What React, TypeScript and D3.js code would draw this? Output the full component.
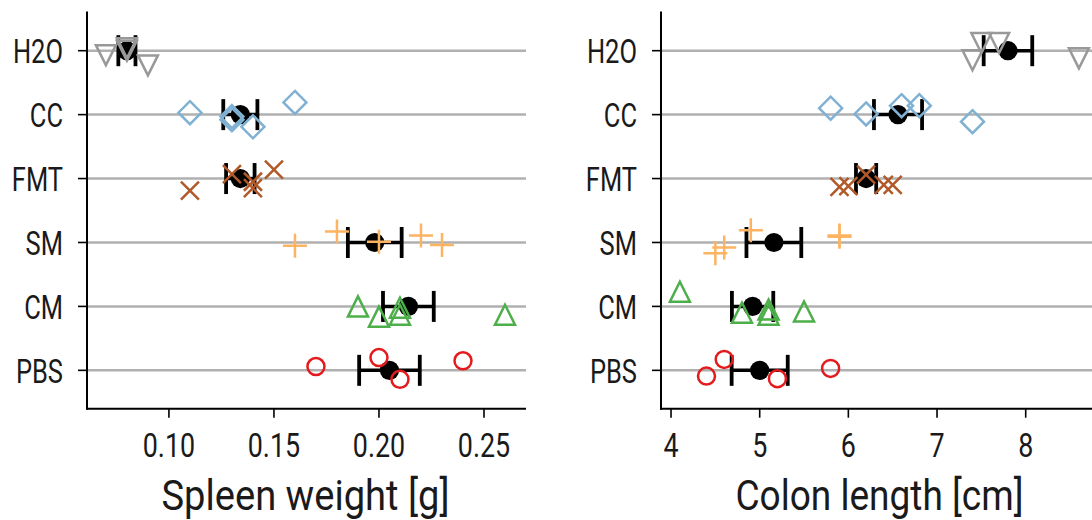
import React from 'react';
import * as d3 from 'd3';

const groups = ['H2O', 'CC', 'FMT', 'SM', 'CM', 'PBS'];
const colors = ['#999999', '#80b1d3', '#b15928', '#fdb462', '#4daf4a', '#e41a1c'];
const markers = ['tri-down', 'diamond', 'x', 'plus', 'tri-up', 'circle'];

// Spleen weight [g] per group (same order as groups)
const spleen: number[][] = [
  [0.07, 0.08, 0.08, 0.09],
  [0.11, 0.13, 0.13, 0.14, 0.16],
  [0.11, 0.13, 0.14, 0.14, 0.15],
  [0.16, 0.18, 0.20, 0.22, 0.23],
  [0.19, 0.20, 0.21, 0.21, 0.26],
  [0.17, 0.20, 0.21, 0.24],
];
// vertical jitter (category units, + = up)
const spleenJitter: number[][] = [
  [-0.07, 0.0, 0.04, -0.23],
  [0.03, -0.03, -0.08, -0.19, 0.19],
  [-0.19, 0.07, -0.05, -0.15, 0.14],
  [-0.05, 0.17, 0.01, 0.11, -0.04],
  [0.0, -0.16, -0.13, -0.02, -0.13],
  [0.06, 0.2, -0.14, 0.15],
];

// Colon length [cm]
const colon: number[][] = [
  [7.4, 7.5, 7.7, 8.6],
  [5.8, 6.2, 6.6, 6.8, 7.4],
  [5.9, 6.0, 6.2, 6.4, 6.5],
  [4.5, 4.6, 4.9, 5.9, 5.9],
  [4.1, 4.8, 5.1, 5.1, 5.5],
  [4.4, 4.6, 5.2, 5.8],
];
const colonJitter: number[][] = [
  [-0.15, 0.12, 0.12, -0.12],
  [0.1, 0.01, 0.14, 0.14, -0.11],
  [-0.13, -0.12, 0.06, -0.1, -0.1],
  [-0.17, -0.08, 0.19, 0.09, 0.11],
  [0.23, -0.1, -0.13, -0.05, -0.08],
  [-0.09, 0.17, -0.13, 0.03],
];

const spleenTicks = [0.1, 0.15, 0.2, 0.25];
const colonTicks = [4, 5, 6, 7, 8];

const FONT = "Roboto, 'DejaVu Sans', sans-serif";
const TEXT = '#1a1a1a';

function SText({ x, y, sx, anchor, size, children, dy }: any) {
  return (
    <text
      transform={`translate(${x},${y}) scale(${sx},1)`}
      textAnchor={anchor}
      fontSize={size}
      fontFamily={FONT}
      fill={TEXT}
      dy={dy}
    >
      {children}
    </text>
  );
}

function Marker({ type, x, y, color }: { type: string; x: number; y: number; color: string }) {
  const sw = 2.5;
  const common = { fill: 'none', stroke: color, strokeWidth: sw };
  if (type === 'circle') return <circle cx={x} cy={y} r={8.5} {...common} />;
  if (type === 'tri-down') {
    const s = 10;
    return <path d={`M${x - s},${y - s}L${x + s},${y - s}L${x},${y + s}Z`} {...common} strokeLinejoin="miter" />;
  }
  if (type === 'tri-up') {
    const s = 10;
    return <path d={`M${x - s},${y + s}L${x + s},${y + s}L${x},${y - s}Z`} {...common} strokeLinejoin="miter" />;
  }
  if (type === 'diamond') {
    const s = 11.5;
    return <path d={`M${x},${y - s}L${x + s},${y}L${x},${y + s}L${x - s},${y}Z`} {...common} />;
  }
  if (type === 'x') {
    const s = 9;
    return <path d={`M${x - s},${y - s}L${x + s},${y + s}M${x - s},${y + s}L${x + s},${y - s}`} {...common} />;
  }
  const s = 12;
  return <path d={`M${x - s},${y}L${x + s},${y}M${x},${y - s}L${x},${y + s}`} {...common} />;
}

function Panel({ data, jitter, domain, range, ticks, tickFmt, label }: any) {
  const x = d3.scaleLinear().domain(domain).range(range);
  const y = d3.scaleLinear().domain([-0.6, 5.613]).range([408.7, 11.5]);
  const catY = (i: number) => y(groups.length - 1 - i);
  const [x0, x1] = range;
  const bottom = y(-0.6);
  const top = y(5.613);
  return (
    <g>
      {groups.map((g, i) => (
        <line key={'grid' + g} x1={x0} x2={x1} y1={catY(i)} y2={catY(i)} stroke="#b0b0b0" strokeWidth={2.5} />
      ))}
      {/* spines */}
      <line x1={x0} x2={x0} y1={top} y2={bottom + 1} stroke="#000" strokeWidth={2} />
      <line x1={x0 - 1} x2={x1} y1={bottom} y2={bottom} stroke="#000" strokeWidth={2} />
      {groups.map((g, i) => (
        <g key={'yt' + g}>
          <line x1={x0 - 9} x2={x0} y1={catY(i)} y2={catY(i)} stroke="#000" strokeWidth={1.6} />
          <SText x={x0 - 24} y={catY(i)} dy="0.36em" sx={0.75} anchor="end" size={34}>
            {g}
          </SText>
        </g>
      ))}
      {ticks.map((t: number) => (
        <g key={'xt' + t}>
          <line x1={x(t)} x2={x(t)} y1={bottom} y2={bottom + 9} stroke="#000" strokeWidth={1.6} />
          <SText x={x(t)} y={457} sx={0.79} anchor="middle" size={34}>
            {tickFmt(t)}
          </SText>
        </g>
      ))}
      <text
        x={(x0 + x1) / 2 - 1}
        y={510}
        textAnchor="middle"
        fontSize={43}
        fontFamily={FONT}
        fill={TEXT}
        textLength={288}
        lengthAdjust="spacingAndGlyphs"
      >
        {label}
      </text>
      {/* means and SEM */}
      {data.map((vals: number[], i: number) => {
        const m = d3.mean(vals) as number;
        const sem = (d3.deviation(vals) as number) / Math.sqrt(vals.length);
        const cy = catY(i);
        return (
          <g key={'m' + i}>
            <line x1={x(m - sem)} x2={x(m + sem)} y1={cy} y2={cy} stroke="#000" strokeWidth={3.5} />
            <line x1={x(m - sem)} x2={x(m - sem)} y1={cy - 15.5} y2={cy + 15.5} stroke="#000" strokeWidth={3.8} />
            <line x1={x(m + sem)} x2={x(m + sem)} y1={cy - 15.5} y2={cy + 15.5} stroke="#000" strokeWidth={3.8} />
            <circle cx={x(m)} cy={cy} r={9.6} fill="#000" />
          </g>
        );
      })}
      {data.map((vals: number[], i: number) =>
        vals.map((v: number, j: number) => (
          <Marker
            key={'p' + i + '-' + j}
            type={markers[i]}
            x={x(v)}
            y={y(groups.length - 1 - i + jitter[i][j])}
            color={colors[i]}
          />
        ))
      )}
    </g>
  );
}

export default function App() {
  return (
    <svg
      width={1092}
      height={520}
      style={{ position: 'absolute', left: 0, top: 0, background: '#fff' }}
    >
      <rect width={1092} height={520} fill="#fff" />
      <Panel
        data={spleen}
        jitter={spleenJitter}
        domain={[0.061, 0.27]}
        range={[87, 526]}
        ticks={spleenTicks}
        tickFmt={d3.format('.2f')}
        label="Spleen weight [g]"
      />
      <Panel
        data={colon}
        jitter={colonJitter}
        domain={[3.887, 8.838]}
        range={[661, 1100]}
        ticks={colonTicks}
        tickFmt={d3.format('d')}
        label="Colon length [cm]"
      />
    </svg>
  );
}
